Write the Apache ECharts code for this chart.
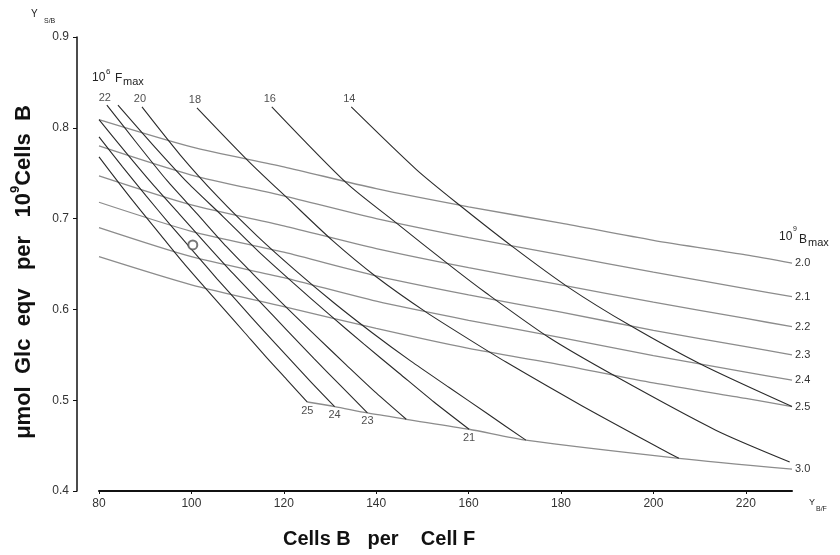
<!DOCTYPE html>
<html>
<head>
<meta charset="utf-8">
<script src="https://cdn.jsdelivr.net/npm/echarts@6/dist/echarts.min.js"></script>
<style>
  html, body { margin: 0; background: #fff; }
  #main { width: 840px; height: 555px; }
</style>
</head>
<body>
<div id="main"></div>
<script>
// Bmax lines (10^9 Bmax), shallow family
const bmaxX  = [80, 100, 120, 140, 160, 180, 200, 220, 230];
const bmax20 = [0.809, 0.779, 0.757, 0.733, 0.713, 0.695, 0.676, 0.660, 0.651];
const bmax21 = [0.780, 0.748, 0.725, 0.700, 0.679, 0.660, 0.641, 0.623, 0.614];
const bmax22 = [0.747, 0.715, 0.692, 0.667, 0.646, 0.627, 0.608, 0.590, 0.581];
const bmax23 = [0.718, 0.686, 0.663, 0.637, 0.616, 0.597, 0.577, 0.559, 0.550];
const bmax24 = [0.690, 0.658, 0.635, 0.609, 0.588, 0.569, 0.549, 0.531, 0.522];
const bmax25 = [0.658, 0.627, 0.603, 0.579, 0.557, 0.539, 0.519, 0.502, 0.493];
const bmax30X = [125.1, 131.0, 138.1, 146.5, 160.1, 172.4, 205.5, 230];
const bmax30  = [0.498, 0.493, 0.486, 0.479, 0.468, 0.456, 0.436, 0.424];

// Fmax curves (10^6 Fmax), steep family
const f14x = [134.6, 148.7, 158.0, 169.8, 181.7, 194.7, 210.5, 230];
const f14y = [0.823, 0.754, 0.715, 0.668, 0.624, 0.583, 0.539, 0.493];
const f16x = [117.4, 133.6, 144.4, 155.8, 163.8, 177.4, 191.9, 213.5, 229.5];
const f16y = [0.823, 0.739, 0.695, 0.649, 0.618, 0.569, 0.526, 0.467, 0.432];
const f18x = [101.2, 112.6, 121.3, 130.5, 140.0, 150.8, 160.1, 168.1, 184.5, 201.8, 205.5];
const f18y = [0.822, 0.762, 0.720, 0.676, 0.636, 0.597, 0.567, 0.542, 0.494, 0.446, 0.436];
const f20x = [89.3, 97.6, 105.9, 114.2, 122.5, 130.9, 139.2, 147.5, 155.8, 164.1, 172.4];
const f20y = [0.823, 0.770, 0.723, 0.681, 0.643, 0.607, 0.574, 0.543, 0.514, 0.485, 0.456];
const f21x = [84.1, 91.7, 99.3, 106.9, 114.5, 122.1, 129.7, 137.3, 144.9, 152.5, 160.1];
const f21y = [0.825, 0.781, 0.739, 0.702, 0.664, 0.629, 0.595, 0.562, 0.530, 0.498, 0.468];
const f22x = [81.7, 88.2, 94.7, 101.1, 107.6, 114.1, 120.6, 127.1, 133.5, 140.0, 146.5];
const f22y = [0.825, 0.783, 0.742, 0.706, 0.669, 0.635, 0.602, 0.570, 0.539, 0.508, 0.479];
const f23x = [80, 85.8, 91.6, 97.4, 103.2, 109.1, 114.9, 120.7, 126.5, 132.3, 138.1];
const f23y = [0.809, 0.773, 0.738, 0.705, 0.672, 0.639, 0.608, 0.577, 0.546, 0.516, 0.486];
const f24x = [80, 85.1, 90.2, 95.3, 100.4, 105.5, 110.6, 115.7, 120.8, 125.9, 131.0];
const f24y = [0.790, 0.757, 0.725, 0.694, 0.664, 0.634, 0.605, 0.576, 0.548, 0.520, 0.493];
const f25x = [80, 84.5, 89.0, 93.5, 98.0, 102.6, 107.1, 111.6, 116.1, 120.6, 125.1];
const f25y = [0.768, 0.738, 0.709, 0.681, 0.653, 0.626, 0.600, 0.574, 0.548, 0.523, 0.498];

// the small open circle
const markerPoint = [100.3, 0.671];

const FONT = '"Liberation Sans", Arial, sans-serif';
const pts = (xs, ys) => xs.map((x, i) => [x, ys[i]]);

const bmaxLines = [
  ['2.0', bmaxX, bmax20], ['2.1', bmaxX, bmax21], ['2.2', bmaxX, bmax22],
  ['2.3', bmaxX, bmax23], ['2.4', bmaxX, bmax24], ['2.5', bmaxX, bmax25],
  ['3.0', bmax30X, bmax30]
];
// name, x, y, where its label goes (start / end)
const fmaxCurves = [
  ['14', f14x, f14y, 'start'], ['16', f16x, f16y, 'start'], ['18', f18x, f18y, 'start'],
  ['20', f20x, f20y, 'start'], ['21', f21x, f21y, 'end'], ['22', f22x, f22y, 'start'],
  ['23', f23x, f23y, 'end'], ['24', f24x, f24y, 'end'], ['25', f25x, f25y, 'end']
];

const series = [];
bmaxLines.forEach(([name, xs, ys]) => {
  series.push({
    name: name, type: 'line', data: pts(xs, ys),
    smooth: 0.25, showSymbol: false, silent: true,
    lineStyle: { color: '#8c8c8c', width: 1.3 },
    endLabel: { show: true, formatter: p => p.seriesName, distance: 3,
                color: '#333', fontSize: 11, fontFamily: FONT }
  });
});
fmaxCurves.forEach(([name, xs, ys]) => {
  series.push({
    name: 'F' + name, type: 'line', data: pts(xs, ys),
    smooth: 0.25, showSymbol: false, silent: true,
    lineStyle: { color: '#2b2b2b', width: 1.1 }
  });
});

// curve labels: top ones at the curve start, bottom ones at the curve end
const topLabels = fmaxCurves.filter(c => c[3] === 'start')
  .map(c => [c[1][0], c[2][0], c[0]]);
const bottomLabels = fmaxCurves.filter(c => c[3] === 'end')
  .map(c => [c[1][c[1].length - 1], c[2][c[2].length - 1], c[0]]);

series.push({
  type: 'scatter', data: topLabels, symbolSize: 0, silent: true,
  label: { show: true, position: 'top', distance: 2, formatter: p => p.value[2],
           color: '#222', fontSize: 11, fontFamily: FONT, offset: [-2, 0] }
});
series.push({
  type: 'scatter', data: bottomLabels, symbolSize: 0, silent: true,
  label: { show: true, position: 'bottom', distance: 3, formatter: p => p.value[2],
           color: '#222', fontSize: 11, fontFamily: FONT }
});
series.push({
  type: 'scatter', data: [markerPoint], symbol: 'emptyCircle', symbolSize: 9, silent: true, z: 5,
  itemStyle: { color: '#555', borderWidth: 1 }
});

const chart = echarts.init(document.getElementById('main'));
chart.setOption({
  animation: false,
  backgroundColor: '#fff',
  grid: { left: 99, right: 48, top: 37, bottom: 64 },
  xAxis: {
    type: 'value', min: 80, max: 230, interval: 20,
    splitLine: { show: false },
    axisLine: { lineStyle: { color: '#111', width: 2 } },
    axisTick: { length: 3, lineStyle: { color: '#111' } },
    axisLabel: { margin: 7, color: '#333', fontSize: 12, fontFamily: FONT, showMaxLabel: false }
  },
  yAxis: {
    type: 'value', min: 0.4, max: 0.9, interval: 0.1, offset: 22,
    splitLine: { show: false },
    axisLine: { show: true, lineStyle: { color: '#111', width: 1.5 } },
    axisTick: { show: true, length: 4, lineStyle: { color: '#111' } },
    axisLabel: { margin: 8, color: '#333', fontSize: 12, fontFamily: FONT,
                 formatter: v => v.toFixed(1) }
  },
  graphic: [
    {
      type: 'text', x: 22, y: 272, rotation: Math.PI / 2,
      style: {
        text: '{t|μmol  Glc  eqv   per   10}{s|9}{t|Cells  B}',
        align: 'center', verticalAlign: 'middle',
        rich: {
          t: { fontFamily: FONT, fontWeight: 'bold', fontSize: 22, fill: '#111', lineHeight: 26, verticalAlign: 'bottom' },
          s: { fontFamily: FONT, fontWeight: 'bold', fontSize: 13, fill: '#111', verticalAlign: 'top' }
        }
      }
    },
    { type: 'text', left: 31, top: 9, style: { text: 'Y', fontSize: 10, fontFamily: FONT, fill: '#222' } },
    { type: 'text', left: 44, top: 18, style: { text: 'S/B', fontSize: 7, fontFamily: FONT, fill: '#222' } },
    { type: 'text', left: 92, top: 72, style: { text: '10', fontSize: 12, fontFamily: FONT, fill: '#222' } },
    { type: 'text', left: 106, top: 68, style: { text: '6', fontSize: 8, fontFamily: FONT, fill: '#222' } },
    { type: 'text', left: 115, top: 73, style: { text: 'F', fontSize: 12, fontFamily: FONT, fill: '#222' } },
    { type: 'text', left: 123, top: 76, style: { text: 'max', fontSize: 11, fontFamily: FONT, fill: '#222' } },
    { type: 'text', left: 779, top: 231, style: { text: '10', fontSize: 12, fontFamily: FONT, fill: '#222' } },
    { type: 'text', left: 793, top: 226, style: { text: '9', fontSize: 7, fontFamily: FONT, fill: '#222' } },
    { type: 'text', left: 799, top: 234, style: { text: 'B', fontSize: 12, fontFamily: FONT, fill: '#222' } },
    { type: 'text', left: 808, top: 237, style: { text: 'max', fontSize: 11, fontFamily: FONT, fill: '#222' } },
    { type: 'text', left: 809, top: 498, style: { text: 'Y', fontSize: 9, fontFamily: FONT, fill: '#222' } },
    { type: 'text', left: 816, top: 506, style: { text: 'B/F', fontSize: 7, fontFamily: FONT, fill: '#222' } },
    { type: 'text', left: 283, top: 529, style: { text: 'Cells B   per    Cell F', fontSize: 20, fontWeight: 'bold', fontFamily: FONT, fill: '#111' } }
  ],
  series: series
});
</script>
</body>
</html>
